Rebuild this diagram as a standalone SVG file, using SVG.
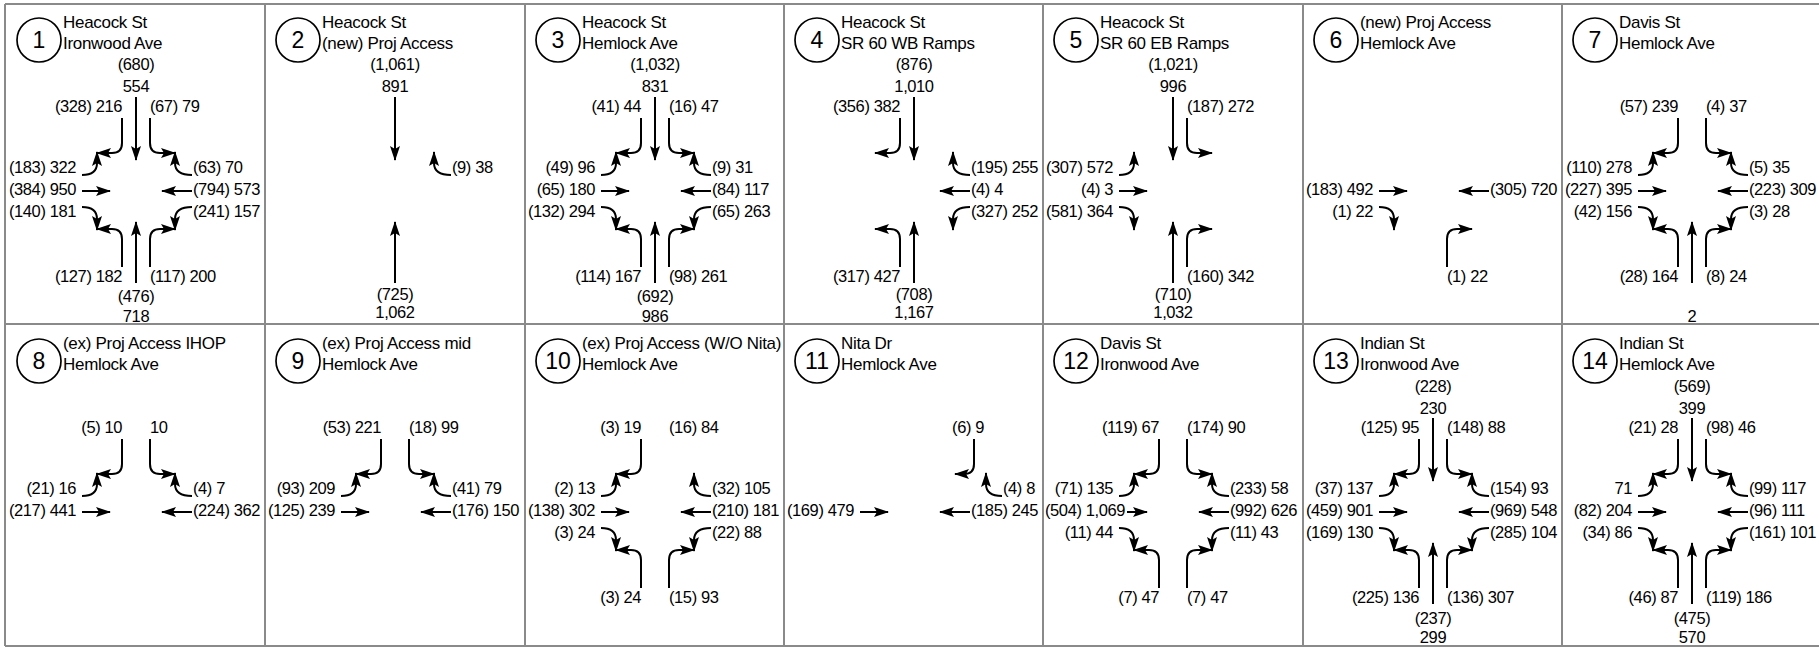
<svg xmlns="http://www.w3.org/2000/svg" width="1819" height="648" viewBox="0 0 1819 648">
<style>
text{font-family:"Liberation Sans",Arial,sans-serif;font-size:16.5px;letter-spacing:-0.4px;fill:#000}
.t{font-size:17px;letter-spacing:-0.3px}
.e{text-anchor:end}
.m{text-anchor:middle}
.num{font-size:23px;letter-spacing:0;text-anchor:middle}
.mv{fill:none;stroke:#000;stroke-width:2;marker-end:url(#ah)}
.grid{fill:none;stroke:#8a8a8a;stroke-width:2}
.ring{fill:none;stroke:#000;stroke-width:1.7}
</style>
<defs>
<marker id="ah" markerUnits="userSpaceOnUse" markerWidth="17" markerHeight="11" refX="14" refY="5" orient="auto" overflow="visible">
<path d="M0,0 L15,5 L0,10 L3,5 z" fill="#000"/>
</marker>
<path id="sbt" class="mv" d="M0,-94 V-31"/>
<path id="nbt" class="mv" d="M0,92 V31"/>
<path id="ebt" class="mv" d="M-54,0 H-26"/>
<path id="wbt" class="mv" d="M56,0 H26"/>
<path id="sbr" class="mv" d="M-14,-73 V-48 Q-14,-38 -24,-38 H-39"/>
<path id="sbl" class="mv" d="M14,-73 V-48 Q14,-38 24,-38 H39"/>
<path id="nbl" class="mv" d="M-14,76 V48 Q-14,38 -24,38 H-39"/>
<path id="nbr" class="mv" d="M14,76 V48 Q14,38 24,38 H39"/>
<path id="ebl" class="mv" d="M-54,-16 Q-39,-16 -39,-28 V-39"/>
<path id="ebr" class="mv" d="M-54,16 Q-39,16 -39,28 V39"/>
<path id="wbr" class="mv" d="M56,-16 Q39,-16 39,-28 V-39"/>
<path id="wbl" class="mv" d="M56,16 Q39,16 39,28 V39"/>
<circle id="ring" class="ring" cx="-97" cy="-151" r="22"/>
</defs>

<g id="grid">
<path class="grid" d="M5,4 H1830 M5,324 H1830 M5,646 H1830 M5,4 V646 M265,4 V646 M525,4 V646 M784,4 V646 M1043,4 V646 M1303,4 V646 M1562,4 V646"/>
</g>

<g id="connectors">
<g transform="translate(136,191)"><use href="#sbt"/><use href="#nbt"/><use href="#ebt"/><use href="#wbt"/><use href="#sbr"/><use href="#sbl"/><use href="#nbl"/><use href="#nbr"/><use href="#ebl"/><use href="#ebr"/><use href="#wbr"/><use href="#wbl"/></g>
<g transform="translate(395,191)"><use href="#sbt"/><use href="#nbt"/><use href="#wbr"/></g>
<g transform="translate(655,191)"><use href="#sbt"/><use href="#nbt"/><use href="#ebt"/><use href="#wbt"/><use href="#sbr"/><use href="#sbl"/><use href="#nbl"/><use href="#nbr"/><use href="#ebl"/><use href="#ebr"/><use href="#wbr"/><use href="#wbl"/></g>
<g transform="translate(914,191)"><use href="#sbt"/><use href="#nbt"/><use href="#wbt"/><use href="#sbr"/><use href="#nbl"/><use href="#wbr"/><use href="#wbl"/></g>
<g transform="translate(1173,191)"><use href="#sbt"/><use href="#nbt"/><use href="#ebt"/><use href="#sbl"/><use href="#nbr"/><use href="#ebl"/><use href="#ebr"/></g>
<g transform="translate(1433,191)"><use href="#ebt"/><use href="#wbt"/><use href="#nbr"/><use href="#ebr"/></g>
<g transform="translate(1692,191)"><use href="#nbt"/><use href="#ebt"/><use href="#wbt"/><use href="#sbr"/><use href="#sbl"/><use href="#nbl"/><use href="#nbr"/><use href="#ebl"/><use href="#ebr"/><use href="#wbr"/><use href="#wbl"/></g>
<g transform="translate(136,512)"><use href="#ebt"/><use href="#wbt"/><use href="#sbr"/><use href="#sbl"/><use href="#ebl"/><use href="#wbr"/></g>
<g transform="translate(395,512)"><use href="#ebt"/><use href="#wbt"/><use href="#sbr"/><use href="#sbl"/><use href="#ebl"/><use href="#wbr"/></g>
<g transform="translate(655,512)"><use href="#ebt"/><use href="#wbt"/><use href="#sbr"/><use href="#nbl"/><use href="#nbr"/><use href="#ebl"/><use href="#ebr"/><use href="#wbr"/><use href="#wbl"/></g>
<g transform="translate(914,512)"><use href="#ebt"/><use href="#wbt"/><path class="mv" d="M60,-73 V-48 Q60,-38 50,-38 H41"/><path class="mv" d="M88,-16 Q72,-16 72,-28 V-39"/></g>
<g transform="translate(1173,512)"><path class="mv" d="M-46,0 H-26"/><use href="#wbt"/><use href="#sbr"/><use href="#sbl"/><use href="#nbl"/><use href="#nbr"/><use href="#ebl"/><use href="#ebr"/><use href="#wbr"/><use href="#wbl"/></g>
<g transform="translate(1433,512)"><use href="#sbt"/><use href="#nbt"/><use href="#ebt"/><use href="#wbt"/><use href="#sbr"/><use href="#sbl"/><use href="#nbl"/><use href="#nbr"/><use href="#ebl"/><use href="#ebr"/><use href="#wbr"/><use href="#wbl"/></g>
<g transform="translate(1692,512)"><use href="#sbt"/><use href="#nbt"/><use href="#ebt"/><use href="#wbt"/><use href="#sbr"/><use href="#sbl"/><use href="#nbl"/><use href="#nbr"/><use href="#ebl"/><use href="#ebr"/><use href="#wbr"/><use href="#wbl"/></g>
</g>

<g id="node-1" transform="translate(136,191)">
<use href="#ring"/><text class="num" x="-97" y="-143">1</text>
<text class="t" x="-73" y="-163">Heacock St</text><text class="t" x="-73" y="-142">Ironwood Ave</text>
<text class="m" y="-121">(680)</text><text class="m" y="-99">554</text>
<text class="e" x="-14" y="-79">(328) 216</text><text x="14" y="-79">(67) 79</text>
<text class="e" x="-60" y="-18">(183) 322</text><text class="e" x="-60" y="4">(384) 950</text><text class="e" x="-60" y="26">(140) 181</text>
<text x="57" y="-18">(63) 70</text><text x="57" y="4">(794) 573</text><text x="57" y="26">(241) 157</text>
<text class="e" x="-14" y="91">(127) 182</text><text x="14" y="91">(117) 200</text>
<text class="m" y="111">(476)</text><text class="m" y="131">718</text>
</g>

<g id="node-2" transform="translate(395,191)">
<use href="#ring"/><text class="num" x="-97" y="-143">2</text>
<text class="t" x="-73" y="-163">Heacock St</text><text class="t" x="-73" y="-142">(new) Proj Access</text>
<text class="m" y="-121">(1,061)</text><text class="m" y="-99">891</text>
<text x="57" y="-18">(9) 38</text>
<text class="m" y="109">(725)</text><text class="m" y="127">1,062</text>
</g>

<g id="node-3" transform="translate(655,191)">
<use href="#ring"/><text class="num" x="-97" y="-143">3</text>
<text class="t" x="-73" y="-163">Heacock St</text><text class="t" x="-73" y="-142">Hemlock Ave</text>
<text class="m" y="-121">(1,032)</text><text class="m" y="-99">831</text>
<text class="e" x="-14" y="-79">(41) 44</text><text x="14" y="-79">(16) 47</text>
<text class="e" x="-60" y="-18">(49) 96</text><text class="e" x="-60" y="4">(65) 180</text><text class="e" x="-60" y="26">(132) 294</text>
<text x="57" y="-18">(9) 31</text><text x="57" y="4">(84) 117</text><text x="57" y="26">(65) 263</text>
<text class="e" x="-14" y="91">(114) 167</text><text x="14" y="91">(98) 261</text>
<text class="m" y="111">(692)</text><text class="m" y="131">986</text>
</g>

<g id="node-4" transform="translate(914,191)">
<use href="#ring"/><text class="num" x="-97" y="-143">4</text>
<text class="t" x="-73" y="-163">Heacock St</text><text class="t" x="-73" y="-142">SR 60 WB Ramps</text>
<text class="m" y="-121">(876)</text><text class="m" y="-99">1,010</text>
<text class="e" x="-14" y="-79">(356) 382</text>
<text x="57" y="-18">(195) 255</text><text x="57" y="4">(4) 4</text><text x="57" y="26">(327) 252</text>
<text class="e" x="-14" y="91">(317) 427</text>
<text class="m" y="109">(708)</text><text class="m" y="127">1,167</text>
</g>

<g id="node-5" transform="translate(1173,191)">
<use href="#ring"/><text class="num" x="-97" y="-143">5</text>
<text class="t" x="-73" y="-163">Heacock St</text><text class="t" x="-73" y="-142">SR 60 EB Ramps</text>
<text class="m" y="-121">(1,021)</text><text class="m" y="-99">996</text>
<text x="14" y="-79">(187) 272</text>
<text class="e" x="-60" y="-18">(307) 572</text><text class="e" x="-60" y="4">(4) 3</text><text class="e" x="-60" y="26">(581) 364</text>
<text x="14" y="91">(160) 342</text>
<text class="m" y="109">(710)</text><text class="m" y="127">1,032</text>
</g>

<g id="node-6" transform="translate(1433,191)">
<use href="#ring"/><text class="num" x="-97" y="-143">6</text>
<text class="t" x="-73" y="-163">(new) Proj Access</text><text class="t" x="-73" y="-142">Hemlock Ave</text>
<text class="e" x="-60" y="4">(183) 492</text><text class="e" x="-60" y="26">(1) 22</text>
<text x="57" y="4">(305) 720</text>
<text x="14" y="91">(1) 22</text>
</g>

<g id="node-7" transform="translate(1692,191)">
<use href="#ring"/><text class="num" x="-97" y="-143">7</text>
<text class="t" x="-73" y="-163">Davis St</text><text class="t" x="-73" y="-142">Hemlock Ave</text>
<text class="e" x="-14" y="-79">(57) 239</text><text x="14" y="-79">(4) 37</text>
<text class="e" x="-60" y="-18">(110) 278</text><text class="e" x="-60" y="4">(227) 395</text><text class="e" x="-60" y="26">(42) 156</text>
<text x="57" y="-18">(5) 35</text><text x="57" y="4">(223) 309</text><text x="57" y="26">(3) 28</text>
<text class="e" x="-14" y="91">(28) 164</text><text x="14" y="91">(8) 24</text>
<text class="m" y="131">2</text>
</g>

<g id="node-8" transform="translate(136,512)">
<use href="#ring"/><text class="num" x="-97" y="-143">8</text>
<text class="t" x="-73" y="-163">(ex) Proj Access IHOP</text><text class="t" x="-73" y="-142">Hemlock Ave</text>
<text class="e" x="-14" y="-79">(5) 10</text><text x="14" y="-79">10</text>
<text class="e" x="-60" y="-18">(21) 16</text><text class="e" x="-60" y="4">(217) 441</text>
<text x="57" y="-18">(4) 7</text><text x="57" y="4">(224) 362</text>
</g>

<g id="node-9" transform="translate(395,512)">
<use href="#ring"/><text class="num" x="-97" y="-143">9</text>
<text class="t" x="-73" y="-163">(ex) Proj Access mid</text><text class="t" x="-73" y="-142">Hemlock Ave</text>
<text class="e" x="-14" y="-79">(53) 221</text><text x="14" y="-79">(18) 99</text>
<text class="e" x="-60" y="-18">(93) 209</text><text class="e" x="-60" y="4">(125) 239</text>
<text x="57" y="-18">(41) 79</text><text x="57" y="4">(176) 150</text>
</g>

<g id="node-10" transform="translate(655,512)">
<use href="#ring"/><text class="num" x="-97" y="-143">10</text>
<text class="t" x="-73" y="-163" textLength="199" lengthAdjust="spacingAndGlyphs">(ex) Proj Access (W/O Nita)</text><text class="t" x="-73" y="-142">Hemlock Ave</text>
<text class="e" x="-14" y="-79">(3) 19</text><text x="14" y="-79">(16) 84</text>
<text class="e" x="-60" y="-18">(2) 13</text><text class="e" x="-60" y="4">(138) 302</text><text class="e" x="-60" y="26">(3) 24</text>
<text x="57" y="-18">(32) 105</text><text x="57" y="4">(210) 181</text><text x="57" y="26">(22) 88</text>
<text class="e" x="-14" y="91">(3) 24</text><text x="14" y="91">(15) 93</text>
</g>

<g id="node-11" transform="translate(914,512)">
<use href="#ring"/><text class="num" x="-97" y="-143">11</text>
<text class="t" x="-73" y="-163">Nita Dr</text><text class="t" x="-73" y="-142">Hemlock Ave</text>
<text class="e" x="70" y="-79">(6) 9</text>
<text class="e" x="-60" y="4">(169) 479</text>
<text x="89" y="-18">(4) 8</text><text x="57" y="4">(185) 245</text>
</g>

<g id="node-12" transform="translate(1173,512)">
<use href="#ring"/><text class="num" x="-97" y="-143">12</text>
<text class="t" x="-73" y="-163">Davis St</text><text class="t" x="-73" y="-142">Ironwood Ave</text>
<text class="e" x="-14" y="-79">(119) 67</text><text x="14" y="-79">(174) 90</text>
<text class="e" x="-60" y="-18">(71) 135</text><text class="e" x="-48" y="4">(504) 1,069</text><text class="e" x="-60" y="26">(11) 44</text>
<text x="57" y="-18">(233) 58</text><text x="57" y="4">(992) 626</text><text x="57" y="26">(11) 43</text>
<text class="e" x="-14" y="91">(7) 47</text><text x="14" y="91">(7) 47</text>
</g>

<g id="node-13" transform="translate(1433,512)">
<use href="#ring"/><text class="num" x="-97" y="-143">13</text>
<text class="t" x="-73" y="-163">Indian St</text><text class="t" x="-73" y="-142">Ironwood Ave</text>
<text class="m" y="-120">(228)</text><text class="m" y="-98">230</text>
<text class="e" x="-14" y="-79">(125) 95</text><text x="14" y="-79">(148) 88</text>
<text class="e" x="-60" y="-18">(37) 137</text><text class="e" x="-60" y="4">(459) 901</text><text class="e" x="-60" y="26">(169) 130</text>
<text x="57" y="-18">(154) 93</text><text x="57" y="4">(969) 548</text><text x="57" y="26">(285) 104</text>
<text class="e" x="-14" y="91">(225) 136</text><text x="14" y="91">(136) 307</text>
<text class="m" y="112">(237)</text><text class="m" y="131">299</text>
</g>

<g id="node-14" transform="translate(1692,512)">
<use href="#ring"/><text class="num" x="-97" y="-143">14</text>
<text class="t" x="-73" y="-163">Indian St</text><text class="t" x="-73" y="-142">Hemlock Ave</text>
<text class="m" y="-120">(569)</text><text class="m" y="-98">399</text>
<text class="e" x="-14" y="-79">(21) 28</text><text x="14" y="-79">(98) 46</text>
<text class="e" x="-60" y="-18">71</text><text class="e" x="-60" y="4">(82) 204</text><text class="e" x="-60" y="26">(34) 86</text>
<text x="57" y="-18">(99) 117</text><text x="57" y="4">(96) 111</text><text x="57" y="26">(161) 101</text>
<text class="e" x="-14" y="91">(46) 87</text><text x="14" y="91">(119) 186</text>
<text class="m" y="112">(475)</text><text class="m" y="131">570</text>
</g>
</svg>
